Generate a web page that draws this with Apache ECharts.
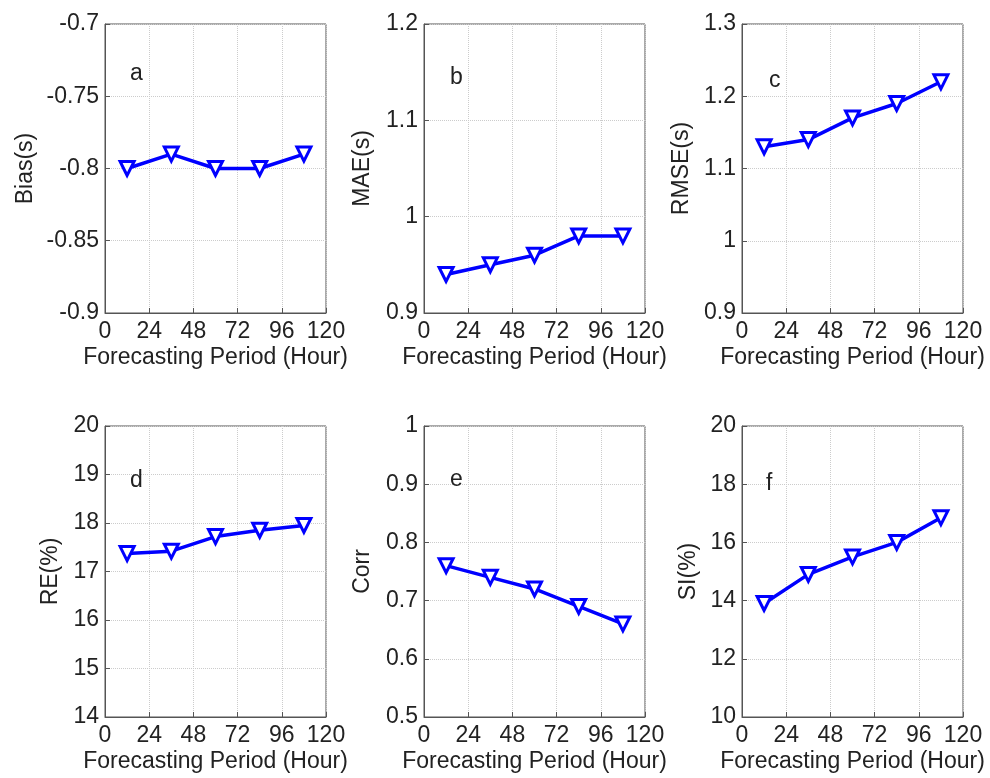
<!DOCTYPE html>
<html>
<head>
<meta charset="utf-8">
<script src="https://cdn.jsdelivr.net/npm/echarts@6/dist/echarts.min.js"></script>
<style>
  html,body{margin:0;padding:0;background:#fff;}
  #main{width:990px;height:778px;}
</style>
</head>
<body>
<div id="main"></div>
<script>
// forecasting hours
var hours = [12, 36, 60, 84, 108];
var xTicks = [0, 24, 48, 72, 96, 120];

var bias = [-0.80, -0.79, -0.80, -0.80, -0.79];
var mae  = [0.94, 0.95, 0.96, 0.98, 0.98];
var rmse = [1.13, 1.14, 1.17, 1.19, 1.22];
var re   = [17.37, 17.42, 17.72, 17.85, 17.95];
var corr = [0.76, 0.74, 0.72, 0.69, 0.66];
var si   = [13.9, 14.9, 15.5, 16.0, 16.85];

var names   = ['Bias(s)', 'MAE(s)', 'RMSE(s)', 'RE(%)', 'Corr', 'SI(%)'];
var letters = ['a', 'b', 'c', 'd', 'e', 'f'];
var yMin = [-0.9, 0.9, 0.9, 14, 0.5, 10];
var yMax = [-0.7, 1.2, 1.3, 20, 1, 20];
var yStep = [0.05, 0.1, 0.1, 1, 0.1, 2];
var allData = [bias, mae, rmse, re, corr, si];

var chart = echarts.init(document.getElementById('main'));

var lefts = [105, 424, 742];
var tops = [24, 426];
var heights = [289, 291];
var nameGaps = [68, 50, 49, 43, 50, 42];
var letterPos = [[125, 57], [445, 61], [764, 64], [125, 464], [445, 463], [761, 467]];

var grids = [], xAxes = [], yAxes = [], series = [], titles = [];
var fontFam = 'Liberation Sans, Arial, sans-serif';
var fs = 23;

for (var i = 0; i < 6; i++) {
  var row = Math.floor(i / 3), col = i % 3;
  grids.push({
    left: lefts[col], top: tops[row], width: 221, height: heights[row],
    show: true, borderColor: '#555', borderWidth: 1, backgroundColor: '#fff'
  });
  xAxes.push({
    type: 'value', gridIndex: i, min: 0, max: 120, interval: 24,
    name: 'Forecasting Period (Hour)', nameLocation: 'middle', nameGap: 33,
    nameTextStyle: {fontSize: fs, color: '#222', fontFamily: fontFam},
    axisLine: {show: true, lineStyle: {color: '#555'}},
    axisTick: {show: true, inside: true, length: 5, lineStyle: {color: '#555'}},
    axisLabel: {fontSize: fs, color: '#222', margin: 7, fontFamily: fontFam},
    splitLine: {show: true, lineStyle: {color: '#ccc', type: 'dotted'}}
  });
  yAxes.push({
    type: 'value', gridIndex: i, min: yMin[i], max: yMax[i], interval: yStep[i],
    name: names[i], nameLocation: 'middle', nameGap: nameGaps[i],
    nameTextStyle: {fontSize: fs, color: '#222', fontFamily: fontFam},
    axisLine: {show: true, lineStyle: {color: '#555'}},
    axisTick: {show: true, inside: true, length: 5, lineStyle: {color: '#555'}},
    axisLabel: {fontSize: fs, color: '#222', margin: 6, fontFamily: fontFam,
      formatter: function (v) { return String(parseFloat(v.toFixed(4))); }},
    splitLine: {show: true, lineStyle: {color: '#ccc', type: 'dotted'}}
  });
  series.push({
    type: 'line', xAxisIndex: i, yAxisIndex: i,
    data: hours.map(function (h, k) { return [h, allData[i][k]]; }),
    symbol: 'triangle', symbolRotate: 180, symbolSize: 14,
    lineStyle: {color: '#0000ff', width: 3.5},
    itemStyle: {color: '#fff', borderColor: '#0000ff', borderWidth: 3},
    animation: false
  });
  titles.push({
    text: letters[i], left: letterPos[i][0], top: letterPos[i][1],
    textStyle: {fontSize: fs, fontWeight: 'normal', color: '#222', fontFamily: fontFam}
  });
}

chart.setOption({
  animation: false,
  title: titles,
  grid: grids,
  xAxis: xAxes,
  yAxis: yAxes,
  series: series
});
</script>
</body>
</html>
